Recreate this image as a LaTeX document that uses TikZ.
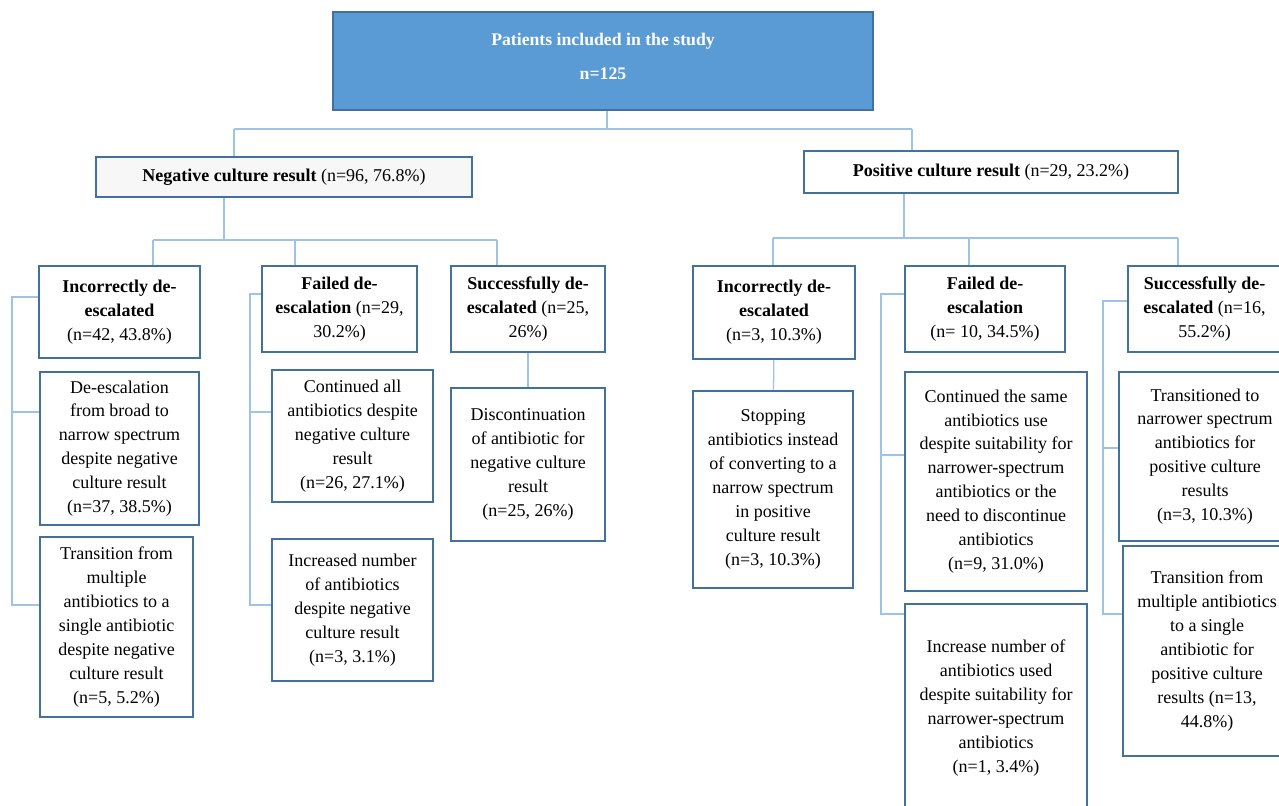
\documentclass[tikz,border=0pt]{standalone}
\usepackage{fontspec}
\setmainfont{Liberation Serif}
\usetikzlibrary{positioning}

\definecolor{boxline}{HTML}{41719C}
\definecolor{topfill}{HTML}{5B9BD5}
\definecolor{linkline}{HTML}{9DC3E6}
\definecolor{negfill}{HTML}{F7F7F7}

\begin{document}
\begin{tikzpicture}[
x=0.025cm,
y=-0.025cm,
box/.style={
draw=boxline,
line width=1.4pt,
fill=white,
rectangle,
inner sep=2pt,
align=center,
font=\fontsize{12.8}{17}\selectfont
},
boxsize/.style 2 args={
minimum width=#1*0.025cm,
minimum height=#2*0.025cm
},
topbox/.style={
box,
fill=topfill,
text=white,
text depth=7pt,
font=\bfseries\fontsize{12.6}{17}\selectfont
},
link/.style={
draw=linkline,
line width=0.9pt
}
]

\useasboundingbox (0,0) rectangle (1279,805);

\node (patients) [topbox, boxsize={540}{98}] at (603,61)
{Patients included in the study \\[7.5pt] n=125};

\node (negative) [box, fill=negfill, boxsize={376}{40}] at (284,177)
{\textbf{Negative culture result} (n=96, 76.8\%)};

\node (positive) [box, boxsize={374}{42}] at (991,172)
{\textbf{Positive culture result} (n=29, 23.2\%)};

\node (negincorrect) [box, boxsize={161}{92}] at (119.5,312)
{\textbf{Incorrectly de-} \\ \textbf{escalated} \\ (n=42, 43.8\%)};

\node (negfailed) [box, boxsize={155}{86}] at (339.5,309)
{\textbf{Failed de-} \\ \textbf{escalation} (n=29, \\ 30.2\%)};

\node (negsuccess) [box, boxsize={154}{86}] at (528,309)
{\textbf{Successfully de-} \\ \textbf{escalated} (n=25, \\ 26\%)};

\node (posincorrect) [box, boxsize={162}{93}] at (774,312.5)
{\textbf{Incorrectly de-} \\ \textbf{escalated} \\ (n=3, 10.3\%)};

\node (posfailed) [box, boxsize={160}{86}] at (985,309)
{\textbf{Failed de-} \\ \textbf{escalation} \\ (n= 10, 34.5\%)};

\node (possuccess) [box, boxsize={153}{86}] at (1204.5,309)
{\textbf{Successfully de-} \\ \textbf{escalated} (n=16, \\ 55.2\%)};

\node (negbroad) [box, boxsize={159}{153}] at (119.5,448.5)
{De-escalation \\ from broad to \\ narrow spectrum \\ despite negative \\ culture result \\ (n=37, 38.5\%)};

\node (negsingle) [box, boxsize={153}{180}] at (116.5,627)
{Transition from \\ multiple \\ antibiotics to a \\ single antibiotic \\ despite negative \\ culture result \\ (n=5, 5.2\%)};

\node (negcontinued) [box, boxsize={161}{132}] at (352.5,436)
{Continued all \\ antibiotics despite \\ negative culture \\ result \\ (n=26, 27.1\%)};

\node (negincreased) [box, boxsize={161}{142}] at (352.5,610)
{Increased number \\ of antibiotics \\ despite negative \\ culture result \\ (n=3, 3.1\%)};

\node (negstopped) [box, boxsize={154}{153}] at (528,464.5)
{Discontinuation \\ of antibiotic for \\ negative culture \\ result \\ (n=25, 26\%)};

\node (posstopping) [box, boxsize={160}{197}] at (773,489.5)
{Stopping \\ antibiotics instead \\ of converting to a \\ narrow spectrum \\ in positive \\ culture result \\ (n=3, 10.3\%)};

\node (poscontinued) [box, boxsize={182}{219}] at (996,481.5)
{Continued the same \\ antibiotics use \\ despite suitability for \\ narrower-spectrum \\ antibiotics or the \\ need to discontinue \\ antibiotics \\ (n=9, 31.0\%)};

\node (posincreased) [box, boxsize={182}{208}] at (996,708)
{Increase number of \\ antibiotics used \\ despite suitability for \\ narrower-spectrum \\ antibiotics \\ (n=1, 3.4\%)};

\node (posnarrow) [box, boxsize={172}{169}] at (1205,456.5)
{Transitioned to \\ narrower spectrum \\ antibiotics for \\ positive culture \\ results \\ (n=3, 10.3\%)};

\node (possingle) [box, boxsize={168}{210}] at (1207,651)
{Transition from \\ multiple antibiotics \\ to a single \\ antibiotic for \\ positive culture \\ results (n=13, \\ 44.8\%)};

\coordinate (topbus) at (607,129);
\coordinate (negdrop) at (234,129);
\coordinate (posdrop) at (912,129);

\coordinate (negbus) at (224,240);
\coordinate (negleft) at (153,240);
\coordinate (negmid) at (295,240);
\coordinate (negright) at (497,240);

\coordinate (posbus) at (904,238);
\coordinate (posleft) at (773,238);
\coordinate (posmid) at (969,238);
\coordinate (posright) at (1178,238);

\coordinate (negAtop) at (12,297);
\coordinate (negAmid) at (12,412);
\coordinate (negAend) at (12,605);
\coordinate (negBtop) at (250,294);
\coordinate (negBmid) at (250,412);
\coordinate (negBend) at (250,605);
\coordinate (posEtop) at (881,294);
\coordinate (posEmid) at (881,455);
\coordinate (posEend) at (881,614);
\coordinate (posFtop) at (1103,301);
\coordinate (posFmid) at (1103,448);
\coordinate (posFend) at (1103,614);

\draw[link] (patients.south -| topbus) -- (topbus);
\draw[link] (negdrop) -- (posdrop);
\draw[link] (negdrop) -- (negdrop |- negative.north);
\draw[link] (posdrop) -- (posdrop |- positive.north);

\draw[link] (negative.south -| negbus) -- (negbus);
\draw[link] (negleft) -- (negright);
\draw[link] (negleft) -- (negleft |- negincorrect.north);
\draw[link] (negmid) -- (negmid |- negfailed.north);
\draw[link] (negright) -- (negright |- negsuccess.north);

\draw[link] (positive.south -| posbus) -- (posbus);
\draw[link] (posleft) -- (posright);
\draw[link] (posleft) -- (posleft |- posincorrect.north);
\draw[link] (posmid) -- (posmid |- posfailed.north);
\draw[link] (posright) -- (posright |- possuccess.north);

\draw[link] (negincorrect.west |- negAtop) -| (negAend) -- (negsingle.west |- negAend);
\draw[link] (negAmid) -- (negbroad.west |- negAmid);
\draw[link] (negfailed.west |- negBtop) -| (negBend) -- (negincreased.west |- negBend);
\draw[link] (negBmid) -- (negcontinued.west |- negBmid);
\draw[link] (negsuccess) -- (negstopped);

\draw[link] (posincorrect) -- (posstopping);
\draw[link] (posfailed.west |- posEtop) -| (posEend) -- (posincreased.west |- posEend);
\draw[link] (posEmid) -- (poscontinued.west |- posEmid);
\draw[link] (possuccess.west |- posFtop) -| (posFend) -- (possingle.west |- posFend);
\draw[link] (posFmid) -- (posnarrow.west |- posFmid);

\end{tikzpicture}
\end{document}
